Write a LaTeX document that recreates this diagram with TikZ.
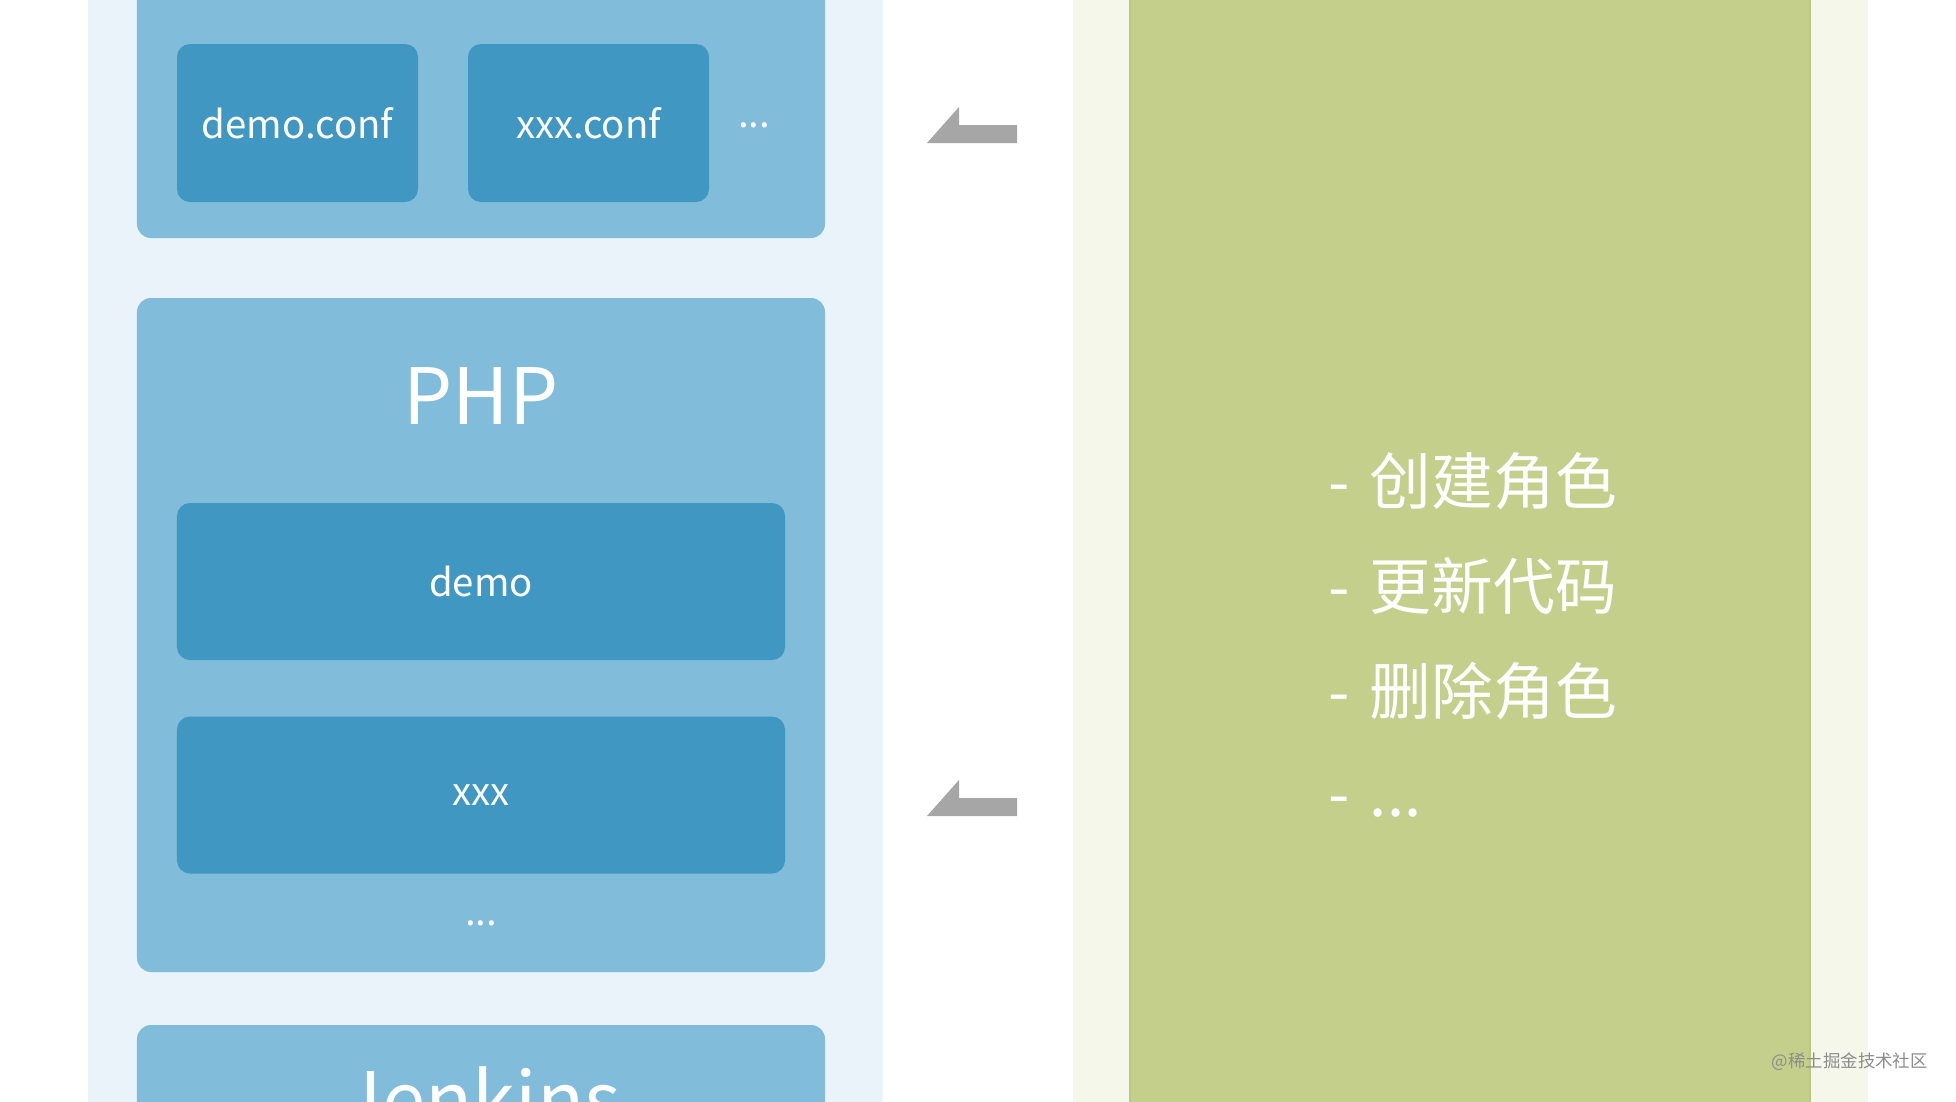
\documentclass[tikz,border=0pt]{standalone}
\usepackage{fontspec}
\setmainfont{Noto Sans CJK SC}
\definecolor{outerblue}{HTML}{EAF3F9}
\definecolor{midblue}{HTML}{81BDDA}
\definecolor{darkblue}{HTML}{3F97C2}
\definecolor{outergreen}{HTML}{F5F7EA}
\definecolor{panelgreen}{HTML}{C4CF8B}
\definecolor{panelgreenedge}{HTML}{BBC781}
\definecolor{arrowgray}{HTML}{A6A6A6}
\definecolor{markgray}{HTML}{8C8C8C}
\begin{document}
\begin{tikzpicture}[x=1bp,y=-1bp,
  panel/.style={fill=#1, draw=none, inner sep=0pt, minimum width=795bp, minimum height=1130bp},
  container/.style={fill=midblue, rounded corners=14bp, inner sep=0pt, minimum width=688bp},
  item/.style={fill=darkblue, rounded corners=13bp, inner sep=0pt, text=white,
    font=\fontsize{38.5}{46}\selectfont},
  title/.style={text=white, inner sep=0pt, anchor=base, font=\fontsize{78}{92}\selectfont},
  dots/.style={text=white, inner sep=0pt, anchor=base, font=\fontsize{38.5}{46}\selectfont},
  task/.style={text=white, inner sep=0pt, anchor=base west, font=\fontsize{62}{74}\selectfont},
  halfarrow/.style={fill=arrowgray, draw=none}
]
\useasboundingbox (0,0) rectangle (1956,1101);
\fill[white] (0,0) rectangle (1956,1101);
\clip (0,0) rectangle (1956,1101);

% left outer panel
\node[panel=outerblue] (left) at (485.5,550) {};
% right outer panel
\node[panel=outergreen] (right) at (1470.5,550) {};
\node[fill=panelgreen, draw=panelgreenedge, line width=1.5bp, inner sep=0pt,
  minimum width=680bp, minimum height=1140bp] (green) at (1470,550) {};

% config container
\node[container, minimum height=290bp] (cfg) at (481,93) {};
\node[item, minimum width=241bp, minimum height=158bp] (democonf) at (297.5,123) {demo.conf};
\node[item, minimum width=241bp, minimum height=158bp] (xxxconf) at (588.5,123) {xxx.conf};
\node[dots] (cfgdots) at (754,127) {...};

% PHP container
\node[container, minimum height=674bp] (php) at (481,635) {};
\node[title] (phptitle) at (481,424) {PHP};
\node[item, minimum width=608bp, minimum height=157bp] (demo) at (481,581.5) {demo};
\node[item, minimum width=608bp, minimum height=157bp] (xxx) at (481,795) {xxx};
\node[dots] (phpdots) at (481,925) {...};

% Jenkins container
\node[container, minimum height=175bp] (jenkins) at (481,1112.5) {};
\node[title] (jenkinstitle) at (481,1128) {Jenkins};

% arrows
\coordinate (a1) at (1017,143);
\coordinate (a2) at (1017,816);
\fill[halfarrow] (a1) -- ++(-90,0) -- ++(32,-36) -- ++(0,18) -- ++(58,0) -- cycle;
\fill[halfarrow] (a2) -- ++(-90,0) -- ++(32,-36) -- ++(0,18) -- ++(58,0) -- cycle;

% tasks
\node[task] (t1) at (1328,504) {- \hspace{6.5bp}创建角色};
\node[task] (t2) at (1328,609) {- \hspace{6.5bp}更新代码};
\node[task] (t3) at (1328,714) {- \hspace{6.5bp}删除角色};
\node[task] (t4) at (1328,816) {- \hspace{6.5bp}...};

% watermark
\node[anchor=east, inner sep=0pt, text=markgray, font=\fontsize{17.5}{20}\selectfont] (mark) at (1928,1062) {@稀土掘金技术社区};
\end{tikzpicture}
\end{document}
